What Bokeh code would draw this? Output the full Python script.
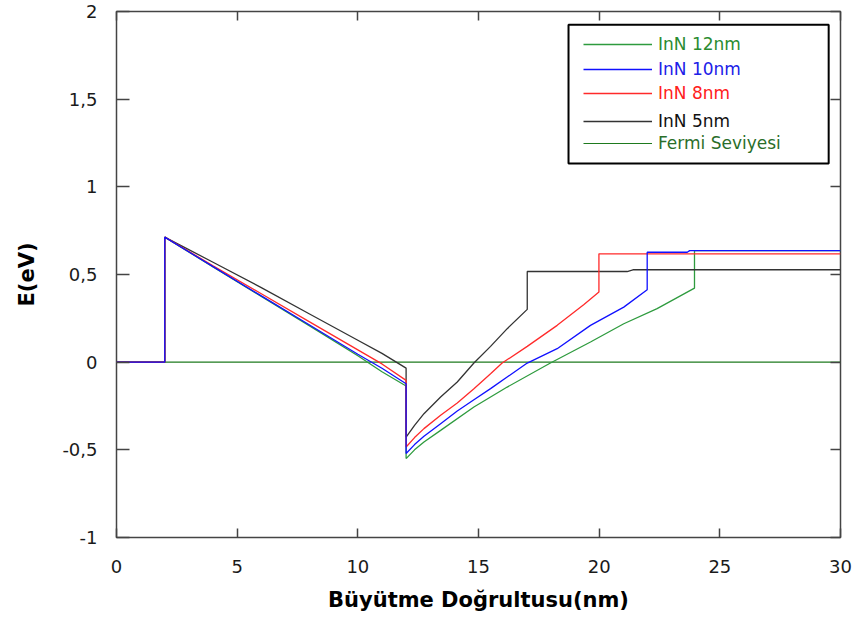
from bokeh.plotting import figure
from bokeh.models import (Range1d, LinearAxis, FixedTicker, Legend, LegendItem,
                          BoxAnnotation, CustomJSTickFormatter)
from bokeh.core.properties import value
from bokeh.embed import file_html
from bokeh.resources import INLINE

# ---------------- data ----------------
x_ticks = [0, 5, 10, 15, 20, 25, 30]
y_ticks = [-1, -0.5, 0, 0.5, 1, 1.5, 2]

x_12nm = [0, 2, 2, 4, 6, 8, 10, 11, 12, 12, 12.35, 12.74, 13.43, 14.81, 16.19, 17.98, 19.64, 21.02, 22.40, 23.95, 23.95, 30]
y_12nm = [0, 0, 0.713, 0.543, 0.375, 0.207, 0.037, -0.055, -0.136, -0.55, -0.5, -0.455, -0.389, -0.256, -0.142, -0.005, 0.115, 0.219, 0.305, 0.422, 0.636, 0.636]

x_10nm = [0, 2, 2, 4, 6, 8, 10, 11, 12, 12, 12.35, 12.74, 13.43, 14.12, 14.81, 15.50, 17.02, 18.26, 19.64, 21.02, 21.99, 21.99, 23.65, 23.75, 30]
y_10nm = [0, 0, 0.713, 0.545, 0.378, 0.212, 0.045, -0.035, -0.123, -0.521, -0.47, -0.423, -0.351, -0.279, -0.214, -0.151, -0.005, 0.077, 0.21, 0.314, 0.413, 0.627, 0.627, 0.636, 0.636]

x_8nm = [0, 2, 2, 4, 6, 8, 10, 11, 12, 12, 12.35, 12.74, 13.43, 14.12, 14.81, 15.50, 15.98, 17.02, 18.26, 19.37, 19.99, 19.99, 30]
y_8nm = [0, 0, 0.713, 0.55, 0.39, 0.23, 0.07, -0.01, -0.104, -0.484, -0.43, -0.379, -0.303, -0.233, -0.151, -0.066, -0.005, 0.09, 0.21, 0.329, 0.40, 0.618, 0.618]

x_5nm = [0, 2, 2, 4, 6, 8, 10, 11, 12, 12, 12.35, 12.74, 13.43, 14.12, 14.81, 15.50, 16.19, 17.02, 17.02, 21.16, 21.4, 30]
y_5nm = [0, 0, 0.713, 0.57, 0.425, 0.275, 0.125, 0.05, -0.034, -0.427, -0.36, -0.294, -0.199, -0.113, -0.005, 0.09, 0.191, 0.301, 0.517, 0.517, 0.527, 0.527]

x_fermi = [0, 30]
y_fermi = [0, 0]

labels = ["InN 12nm", "InN 10nm", "InN 8nm", "InN 5nm", "Fermi Seviyesi"]

# ---------------- styles ----------------
FONT = "DejaVu Sans"
C12, C10, C8, C5, CF = "#2e9b3e", "#1010ff", "#ff2a2a", "#333333", "#1e7a1e"
T12, T10, T8, T5, TF = "#2a8c30", "#2020e8", "#ff2020", "#111111", "#2a6e2a"
FRAME = "#444444"

p = figure(width=854, height=618, output_backend="svg", toolbar_location=None,
           x_range=Range1d(0, 30), y_range=Range1d(-1, 2),
           min_border_left=116, min_border_right=14, min_border_top=11, min_border_bottom=81)
p.xgrid.visible = False
p.ygrid.visible = False
p.outline_line_color = FRAME
p.outline_line_width = 1.5
p.background_fill_color = "white"
p.border_fill_color = "white"

fmt = CustomJSTickFormatter(code="return String(tick).replace('.', ',');")
empty = CustomJSTickFormatter(code="return '';")

for ax, ticks, tin, so in ((p.xaxis[0], x_ticks, 9, 22), (p.yaxis[0], y_ticks, 13, 19)):
    ax.ticker = FixedTicker(ticks=ticks)
    ax.formatter = fmt
    ax.axis_line_color = None
    ax.major_tick_in = tin
    ax.major_tick_out = 0
    ax.major_tick_line_color = FRAME
    ax.major_tick_line_width = 1.5
    ax.minor_tick_line_color = None
    ax.major_label_text_font = FONT
    ax.major_label_text_font_size = "18px"
    ax.major_label_text_color = "#1a1a1a"
    ax.major_label_standoff = so

p.xaxis.axis_label = "Büyütme Doğrultusu(nm)"
p.yaxis.axis_label = "E(eV)"
for ax in (p.xaxis[0], p.yaxis[0]):
    ax.axis_label_text_font = FONT
    ax.axis_label_text_font_size = "21px"
    ax.axis_label_text_font_style = "bold"
    ax.axis_label_text_color = "#000000"
p.xaxis.axis_label_standoff = 12
p.yaxis.axis_label_standoff = 20

for loc, ticks, tin in (("above", x_ticks, 9), ("right", y_ticks, 10)):
    ax = LinearAxis(ticker=FixedTicker(ticks=ticks), formatter=empty,
                    axis_line_color=None, major_tick_in=tin, major_tick_out=0,
                    major_tick_line_color=FRAME, major_tick_line_width=1.5,
                    minor_tick_line_color=None, major_label_text_font_size="0px",
                    major_label_standoff=0)
    p.add_layout(ax, loc)

# ---------------- lines ----------------
rf = p.line(x_fermi, y_fermi, line_color=CF, line_width=1.2)
r12 = p.line(x_12nm, y_12nm, line_color=C12, line_width=1.3)
r5 = p.line(x_5nm, y_5nm, line_color=C5, line_width=1.3)
r8 = p.line(x_8nm, y_8nm, line_color=C8, line_width=1.3)
r10 = p.line(x_10nm, y_10nm, line_color=C10, line_width=1.3)

# ---------------- legend ----------------
p.add_layout(BoxAnnotation(left=18.73, right=29.51, bottom=1.133, top=1.925,
                           fill_alpha=0, line_color="#000000", line_alpha=1, line_width=2))

entries = [(labels[0], r12, T12), (labels[1], r10, T10), (labels[2], r8, T8),
           (labels[3], r5, T5), (labels[4], rf, TF)]
row_centers = [44, 69, 93, 121, 143]
for (lab, rend, tc), cy in zip(entries, row_centers):
    leg = Legend(items=[LegendItem(label=value(lab), renderers=[rend])],
                 location=(467, 537 - cy - 10), padding=0, margin=0, spacing=0,
                 border_line_alpha=0, background_fill_alpha=0,
                 glyph_width=69, glyph_height=20, label_height=20, label_standoff=6,
                 label_text_font=FONT, label_text_font_size="17px", label_text_color=tc)
    p.add_layout(leg)

open("out.html", "w").write(file_html(p, INLINE))
